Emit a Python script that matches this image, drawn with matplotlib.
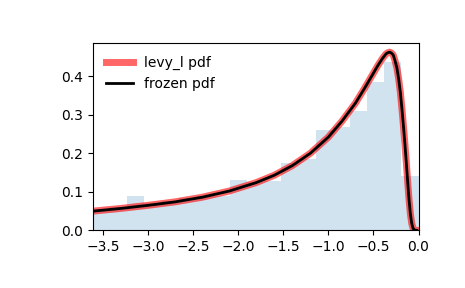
"""Плотность распределения levy_l: гистограмма выборки и кривая pdf."""

import matplotlib.pyplot as plt

# Границы и высоты столбцов гистограммы
bin_edges = [-3.61, -3.42, -3.23, -3.04, -2.85, -2.66, -2.47, -2.28, -2.09,
             -1.90, -1.71, -1.52, -1.33, -1.14, -0.95, -0.76, -0.57, -0.38,
             -0.19, 0.0]
bin_heights = [0.050, 0.060, 0.089, 0.070, 0.075, 0.085, 0.090, 0.090,
               0.132, 0.125, 0.127, 0.175, 0.185, 0.261, 0.268, 0.309,
               0.384, 0.437, 0.141]

# Точки кривой pdf
pdf_x = [-3.61, -3.3, -3.0, -2.7, -2.4, -2.1, -1.8, -1.6, -1.4, -1.2, -1.0,
         -0.85, -0.7, -0.6, -0.5, -0.45, -0.40, -0.36, -0.34, -0.32, -0.30,
         -0.28, -0.26, -0.24, -0.22, -0.20, -0.18, -0.165, -0.15, -0.135,
         -0.12, -0.105, -0.09, -0.075, -0.06, -0.04, -0.02]
pdf_y = [0.050, 0.057, 0.065, 0.074, 0.086, 0.102, 0.124, 0.143, 0.168,
         0.200, 0.242, 0.283, 0.330, 0.368, 0.408, 0.428, 0.446, 0.458,
         0.461, 0.4625, 0.460, 0.455, 0.440, 0.422, 0.393, 0.356, 0.306,
         0.265, 0.222, 0.175, 0.126, 0.080, 0.043, 0.018, 0.005, 0.0003,
         0.0]


def plot_levy_l():
    """Построение графика."""
    fig = plt.figure(figsize=(4.65, 2.88), dpi=100)
    ax = fig.add_axes([0.2, 0.2, 0.7, 0.65])

    ax.plot(pdf_x, pdf_y, 'r-', lw=5, alpha=0.6, label='levy_l pdf')
    ax.plot(pdf_x, pdf_y, 'k-', lw=2, label='frozen pdf')

    centers = [(a + b) / 2 for a, b in zip(bin_edges[:-1], bin_edges[1:])]
    ax.hist(centers, bins=bin_edges, weights=bin_heights,
            histtype='stepfilled', alpha=0.2)

    ax.set_xlim([-3.61, 0.0])
    ax.set_xticks([-3.5, -3.0, -2.5, -2.0, -1.5, -1.0, -0.5, 0.0])
    ax.set_yticks([0.0, 0.1, 0.2, 0.3, 0.4])
    ax.legend(loc='best', frameon=False)

    fig.savefig('out.png', dpi=100)


if __name__ == '__main__':
    plot_levy_l()
